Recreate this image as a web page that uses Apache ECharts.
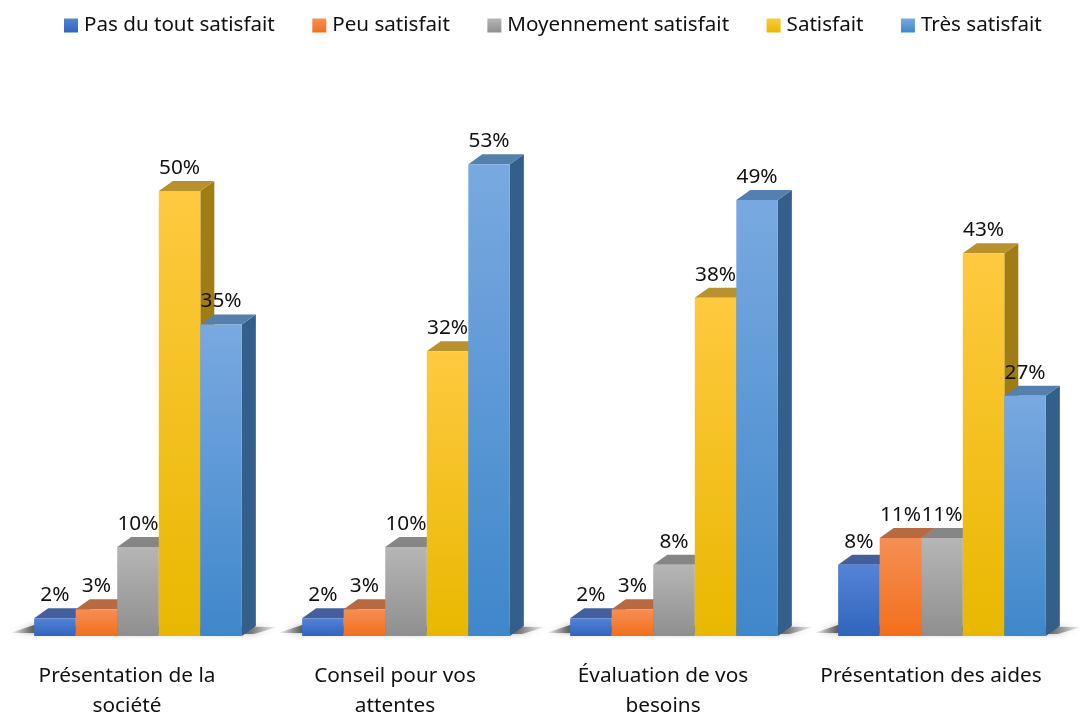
<!DOCTYPE html>
<html>
<head>
<meta charset="utf-8">
<style>html,body{margin:0;padding:0;background:#fff}#chart{width:1081px;height:714px}</style>
<script src="https://cdn.jsdelivr.net/npm/echarts@6/dist/echarts.min.js"></script>
</head>
<body>
<div id="chart"></div>
<script>
const categories = ['Présentation de la\nsociété', 'Conseil pour vos\nattentes', 'Évaluation de vos\nbesoins', 'Présentation des aides'];
const seriesNames = ['Pas du tout satisfait', 'Peu satisfait', 'Moyennement satisfait', 'Satisfait', 'Très satisfait'];
const pasDuTout = [2, 2, 2, 8];
const peu = [3, 3, 3, 11];
const moyen = [10, 10, 8, 11];
const satisfait = [50, 32, 38, 43];
const tres = [35, 53, 49, 27];

const seriesValues = [pasDuTout, peu, moyen, satisfait, tres];

// front top, front bottom, top face, side face
const palette = [
  ['#5583d8', '#2f65bb', '#435f9e', '#2c4f8f'],
  ['#f58f55', '#f26f1c', '#b76a3f', '#a9511c'],
  ['#b6b6b6', '#8f8f8f', '#868686', '#6c6c6c'],
  ['#ffc940', '#e8b800', '#b8922c', '#a07c14'],
  ['#79a9e0', '#3f87cb', '#5580ad', '#345f8b']
];

const FONT = '"Noto Sans"';
const DEPTH_X = 14;
const DEPTH_Y = 10;

function vgrad(a, b) {
  return new echarts.graphic.LinearGradient(0, 0, 0, 1, [
    { offset: 0, color: a },
    { offset: 1, color: b }
  ]);
}

function barRenderer(idx) {
  return function (params, api) {
    const val = api.value(1);
    const top = api.coord([api.value(0), val]);
    const base = api.coord([api.value(0), 0]);
    const w = api.size([1, 0])[0] * 0.155;
    const x0 = top[0] + (idx - 2.5) * w;
    const x1 = x0 + w;
    const y0 = top[1];
    const y1 = base[1];
    const c = palette[idx];
    return {
      type: 'group',
      children: [
        {
          type: 'polygon',
          shape: { points: [[x1, y0], [x1 + DEPTH_X, y0 - DEPTH_Y], [x1 + DEPTH_X, y1 - DEPTH_Y], [x1, y1]] },
          style: { fill: c[3] }
        },
        {
          type: 'polygon',
          shape: { points: [[x0, y0], [x0 + DEPTH_X, y0 - DEPTH_Y], [x1 + DEPTH_X, y0 - DEPTH_Y], [x1, y0]] },
          style: { fill: c[2] }
        },
        {
          type: 'rect',
          shape: { x: x0, y: y0, width: x1 - x0, height: y1 - y0 },
          style: { fill: vgrad(c[0], c[1]) }
        },
        {
          type: 'text',
          z2: 10,
          style: {
            text: val + '%',
            x: (x0 + x1) / 2,
            y: y0 - 23,
            align: 'center',
            verticalAlign: 'middle',
            fill: '#111',
            font: '20.8px ' + FONT
          }
        }
      ]
    };
  };
}

// soft floor shadow under each group of bars
function shadowRenderer(params, api) {
  const p = api.coord([api.value(0), 0]);
  const w = api.size([1, 0])[0] * 0.155;
  const x0 = p[0] - 2.5 * w;
  const x1 = p[0] + 2.5 * w;
  return {
    type: 'group',
    children: [{
      type: 'polygon',
      shape: { points: [[x0 - 24, p[1] - 3], [x0, p[1] - 11], [x1 + 36, p[1] - 9], [x1 + 12, p[1] - 2]] },
      style: {
        fill: new echarts.graphic.LinearGradient(0, 0, 1, 0, [
          { offset: 0, color: 'rgba(80,80,80,0)' },
          { offset: 0.09, color: 'rgba(80,80,80,0.9)' },
          { offset: 0.87, color: 'rgba(80,80,80,0.9)' },
          { offset: 1, color: 'rgba(80,80,80,0)' }
        ]),
        shadowBlur: 6,
        shadowColor: 'rgba(80,80,80,0.5)'
      },
      silent: true
    }]
  };
}

const series = seriesNames.map((name, i) => ({
  name: name,
  type: 'custom',
  z: 3,
  renderItem: barRenderer(i),
  encode: { x: 0, y: 1 },
  itemStyle: { color: vgrad(palette[i][0], palette[i][1]) },
  data: seriesValues[i].map((v, k) => [k, v])
}));

series.unshift({
  name: 'ombre',
  type: 'custom',
  z: 1,
  silent: true,
  renderItem: shadowRenderer,
  encode: { x: 0, y: 1 },
  data: categories.map((c, k) => [k, 0])
});

const chart = echarts.init(document.getElementById('chart'), null, { renderer: 'canvas' });
chart.setOption({
  animation: false,
  backgroundColor: '#fff',
  legend: {
    data: seriesNames,
    top: 15,
    left: 64,
    padding: 0,
    icon: 'rect',
    itemWidth: 14,
    itemHeight: 14,
    itemGap: 37.5,
    textStyle: { fontFamily: FONT, fontSize: 20.6, color: '#111', padding: [0, 0, 0, 1] }
  },
  grid: { left: 4, right: 5, top: 102, bottom: 78, outerBoundsMode: 'none' },
  xAxis: {
    type: 'category',
    data: categories,
    axisLine: { show: false },
    axisTick: { show: false },
    axisLabel: {
      interval: 0,
      margin: 25,
      padding: [0, 22, 0, 0],
      lineHeight: 30,
      fontFamily: FONT,
      fontSize: 20.8,
      color: '#111'
    }
  },
  yAxis: { type: 'value', min: 0, max: 60, show: false },
  series: series
});
</script>
</body>
</html>
